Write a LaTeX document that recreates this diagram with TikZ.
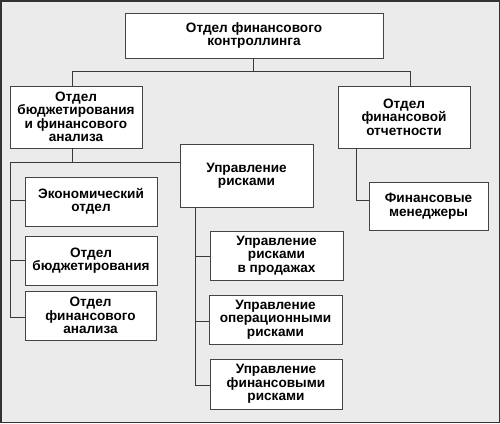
\documentclass[tikz,border=0pt]{standalone}
\usepackage{fontspec}
\setmainfont{Liberation Sans}
\begin{document}
\begin{tikzpicture}[x=1pt,y=-1pt,
  box/.style={draw=boxline,fill=white,line width=0.9pt,inner sep=0pt,align=center,
    font=\bfseries\fontsize{13.6}{13.4}\selectfont},
  conn/.style={draw=connline,line width=0.9pt}]
\definecolor{bg}{HTML}{EBEBEB}
\definecolor{boxline}{HTML}{444444}
\definecolor{connline}{HTML}{3A3A3A}
\definecolor{frame}{HTML}{333333}
\useasboundingbox (0,0) rectangle (500,423);
\fill[bg] (0,0) rectangle (500,423);
\draw[frame,line width=1.5pt] (0.75,0.75) rectangle (499.25,422.25);
% nodes
\node[box,minimum width=258pt,minimum height=45pt] (top) at (254,35.5) {Отдел финансового\\контроллинга};
\node[box,minimum width=132pt,minimum height=62pt] (bud) at (76,117) {Отдел\\бюджетирования\\и финансового\\анализа};
\node[box,minimum width=132pt,minimum height=62pt] (otch) at (404,117) {Отдел\\финансовой\\отчетности};
\node[box,minimum width=133pt,minimum height=63pt] (risk) at (246.5,175.5) {Управление\\рисками};
\node[box,minimum width=132pt,minimum height=49pt] (econ) at (91,201.5) {Экономический\\отдел};
\node[box,minimum width=132pt,minimum height=49pt] (budj) at (91,260.5) {Отдел\\бюджетирования};
\node[box,minimum width=131pt,minimum height=49pt] (fan) at (90.5,315.5) {Отдел\\финансового\\анализа};
\node[box,minimum width=133pt,minimum height=49pt] (prod) at (276.5,255.5) {Управление\\рисками\\в продажах};
\node[box,minimum width=133pt,minimum height=49pt] (oper) at (275.5,319.5) {Управление\\операционными\\рисками};
\node[box,minimum width=132pt,minimum height=50pt] (finr) at (276,384) {Управление\\финансовыми\\рисками};
\node[box,minimum width=119pt,minimum height=48pt] (men) at (428.5,206) {Финансовые\\менеджеры};
% bus coordinates
\coordinate (b1) at (253,71);
\coordinate (b1l) at (72,71);
\coordinate (b1r) at (410,71);
\coordinate (b2) at (72,162);
\coordinate (b2l) at (10,162);
\coordinate (b2e) at (10,317);
\coordinate (b3) at (195,385);
\coordinate (b4) at (356,200);
% connectors
\draw[conn] (top.south -| b1) -- (b1);
\draw[conn] (bud.north -| b1l) -- (b1l) -- (b1r) -- (otch.north -| b1r);
\draw[conn] (bud.south -| b2) -- (b2);
\draw[conn] (b2l) -- (risk.west |- b2);
\draw[conn] (b2l) -- (b2e) -- (fan.west |- b2e);
\draw[conn] (econ.west |- 10,200) -- (10,200);
\draw[conn] (budj.west |- 10,260) -- (10,260);
\draw[conn] (risk.south -| b3) -- (b3) -- (finr.west |- b3);
\draw[conn] (prod.west |- 195,256) -- (195,256);
\draw[conn] (oper.west |- 195,321) -- (195,321);
\draw[conn] (otch.south -| b4) -- (b4) -- (men.west |- b4);
\end{tikzpicture}
\end{document}
